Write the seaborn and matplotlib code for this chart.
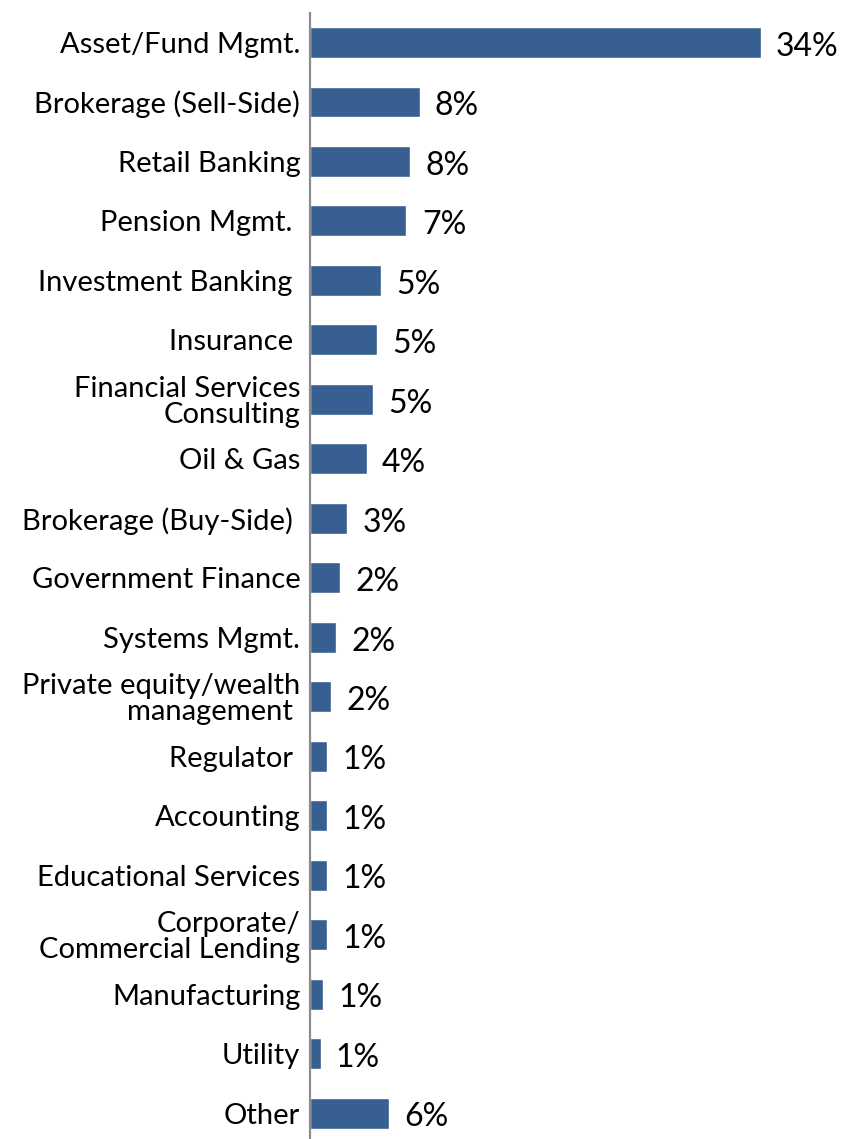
import numpy as np
import pandas as pd
import matplotlib
matplotlib.use("Agg")
import matplotlib.pyplot as plt
from matplotlib.ticker import FixedLocator
import seaborn as sns

categories = [
    "Asset/Fund Mgmt.",
    "Brokerage (Sell-Side)",
    "Retail Banking",
    "Pension Mgmt. ",
    "Investment Banking ",
    "Insurance ",
    "Financial Services\nConsulting",
    "Oil & Gas",
    "Brokerage (Buy-Side) ",
    "Government Finance",
    "Systems Mgmt.",
    "Private equity/wealth\nmanagement ",
    "Regulator ",
    "Accounting",
    "Educational Services",
    "Corporate/\nCommercial Lending",
    "Manufacturing",
    "Utility",
    "Other",
]
shares = [34.1, 8.3, 7.6, 7.3, 5.4, 5.1, 4.8, 4.3, 2.8, 2.3, 2.0, 1.6,
          1.3, 1.3, 1.3, 1.3, 1.0, 0.8, 6.0]

sns.set_style("white")
plt.rcParams["font.family"] = ["Lato", "DejaVu Sans"]

df = pd.DataFrame({"category": categories, "share": shares})

fig = plt.figure(figsize=(8.44, 11.39), dpi=100)
ax = fig.add_axes([0.3673, -0.0035, 0.6327, 0.9923])

sns.barplot(data=df, y="category", x="share", orient="h", color="#375F91",
            width=0.52, saturation=1, ax=ax, order=categories)

ax.set_xlim(0, 40.4)
ax.set_ylim(len(categories) - 0.5, -0.5)
ax.set_xlabel("")
ax.set_ylabel("")
ax.set_xticks([])

for side in ("top", "right", "bottom"):
    ax.spines[side].set_visible(False)
ax.spines["left"].set_color("#8C8C8C")
ax.spines["left"].set_linewidth(1.6)

# category labels sit between the boundary ticks
ax.tick_params(axis="y", which="major", length=0, pad=7, labelsize=21,
               labelcolor="black")
ax.yaxis.set_minor_locator(FixedLocator(np.arange(-0.5, len(categories), 1.0)))
ax.tick_params(axis="y", which="minor", length=6, width=1.4, color="#8C8C8C",
               direction="out")
for lbl in ax.get_yticklabels():
    lbl.set_multialignment("right")
    lbl.set_linespacing(1.0)

for i, v in enumerate(shares):
    ax.annotate(f"{v:.0f}%", xy=(v, i), xytext=(11, -3),
                textcoords="offset points", ha="left", va="center",
                fontsize=23, color="black")

fig.savefig("out.png", dpi=100)
